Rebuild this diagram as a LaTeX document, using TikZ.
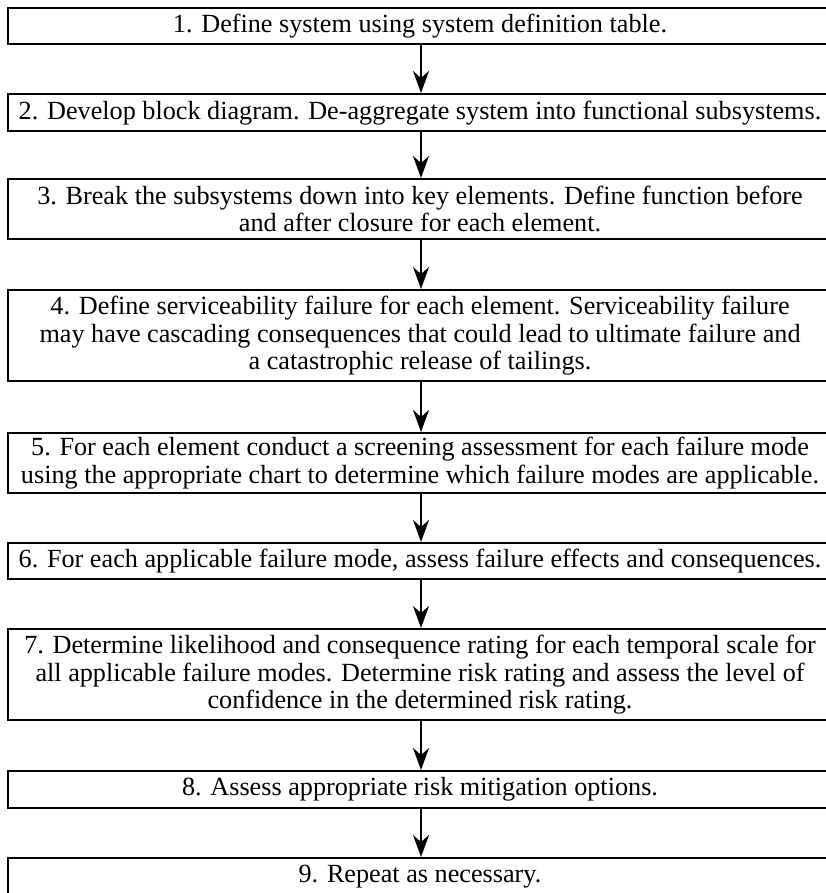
\documentclass[tikz,border=0pt]{standalone}
\usepackage{fontspec}
\setmainfont{Liberation Serif}
\usetikzlibrary{arrows.meta}
\begin{document}
\begin{tikzpicture}[x=1pt,y=-1pt,
  stepbox/.style={draw, line width=2.4pt, minimum width=824pt, inner sep=0pt,
    align=center, anchor=north, font=\fontsize{26.2}{27.5}\selectfont},
  flow/.style={line width=2pt, -{Stealth[length=22pt,width=16pt,inset=7pt]}}]
  \useasboundingbox[fill=white] (0,0) rectangle (826,893);

  % the nine steps, top to bottom
  \node[stepbox, minimum height=36pt] (s1) at (420,7)
    {1. Define system using system definition table.};
  \node[stepbox, minimum height=37pt] (s2) at (420,93)
    {2. Develop block diagram. De-aggregate system into functional subsystems.};
  \node[stepbox, minimum height=60pt] (s3) at (420,178)
    {3. Break the subsystems down into key elements. Define function before\\
     and after closure for each element.};
  \node[stepbox, minimum height=91pt] (s4) at (420,289)
    {4. Define serviceability failure for each element. Serviceability failure\\
     may have cascading consequences that could lead to ultimate failure and\\
     a catastrophic release of tailings.};
  \node[stepbox, minimum height=60pt] (s5) at (420,432)
    {5. For each element conduct a screening assessment for each failure mode\\
     using the appropriate chart to determine which failure modes are applicable.};
  \node[stepbox, minimum height=36pt] (s6) at (420,542)
    {6. For each applicable failure mode, assess failure effects and consequences.};
  \node[stepbox, minimum height=91pt] (s7) at (420,628)
    {7. Determine likelihood and consequence rating for each temporal scale for\\
     all applicable failure modes. Determine risk rating and assess the level of\\
     confidence in the determined risk rating.};
  \node[stepbox, minimum height=37pt] (s8) at (420,770)
    {8. Assess appropriate risk mitigation options.};
  \node[stepbox, minimum height=36pt] (s9) at (420,857)
    {9. Repeat as necessary.};

  % arrows between consecutive steps
  \coordinate (axis) at (421,0);
  \foreach \a/\b in {s1/s2,s2/s3,s3/s4,s4/s5,s5/s6,s6/s7,s7/s8,s8/s9}
    \draw[flow] (\a.south -| axis) -- (\b.north -| axis);
\end{tikzpicture}
\end{document}
